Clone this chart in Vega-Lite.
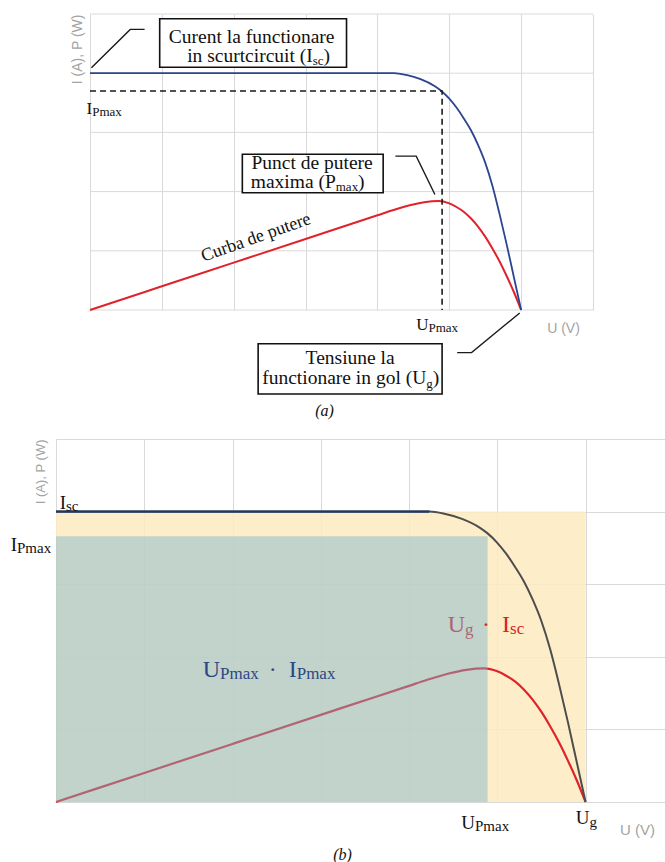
{
  "$schema": "https://vega.github.io/schema/vega-lite/v6.json",
  "background": "white",
  "padding": {"left": 6, "top": 13, "right": 0, "bottom": 0},
  "spacing": 19,
  "config": {
    "view": {"stroke": null},
    "axis": {"labels": false, "ticks": false, "domain": false, "grid": true, "gridColor": "#d9d9d9", "gridWidth": 1}
  },
  "datasets": {
    "pv": [
      {"x": 0, "y": 0}, {"x": 1, "y": 0.4}, {"x": 2, "y": 0.8}, {"x": 3, "y": 1.2}, {"x": 3.6, "y": 1.44},
      {"x": 4.0, "y": 1.6}, {"x": 4.2, "y": 1.68}, {"x": 4.45, "y": 1.77}, {"x": 4.65, "y": 1.82}, {"x": 4.85, "y": 1.84},
      {"x": 5.0, "y": 1.8}, {"x": 5.1, "y": 1.74}, {"x": 5.2, "y": 1.66}, {"x": 5.3, "y": 1.55}, {"x": 5.4, "y": 1.41},
      {"x": 5.5, "y": 1.24}, {"x": 5.6, "y": 1.04}, {"x": 5.7, "y": 0.82}, {"x": 5.8, "y": 0.57}, {"x": 5.9, "y": 0.3}, {"x": 6.0, "y": 0}
    ],
    "iv": [
      {"x": 0, "y": 4.0, "seg": "flat"}, {"x": 4.23, "y": 4.0, "seg": "flat"},
      {"x": 4.4, "y": 3.97, "seg": "knee"}, {"x": 4.6, "y": 3.9, "seg": "knee"}, {"x": 4.8, "y": 3.78, "seg": "knee"},
      {"x": 4.89, "y": 3.7, "seg": "knee"}, {"x": 5.0, "y": 3.57, "seg": "knee"}, {"x": 5.1, "y": 3.42, "seg": "knee"},
      {"x": 5.2, "y": 3.24, "seg": "knee"}, {"x": 5.3, "y": 3.04, "seg": "knee"}, {"x": 5.4, "y": 2.79, "seg": "knee"},
      {"x": 5.5, "y": 2.49, "seg": "knee"}, {"x": 5.6, "y": 2.1, "seg": "knee"}, {"x": 5.7, "y": 1.62, "seg": "knee"},
      {"x": 5.8, "y": 1.1, "seg": "knee"}, {"x": 5.9, "y": 0.55, "seg": "knee"}, {"x": 6.0, "y": 0, "seg": "knee"}
    ],
    "a_grid_h": [
      {"x": 0, "x2": 7, "y": 0}, {"x": 0, "x2": 7, "y": 1}, {"x": 0, "x2": 7, "y": 2},
      {"x": 0, "x2": 7, "y": 3}, {"x": 0, "x2": 7, "y": 4}, {"x": 0, "x2": 7, "y": 5}
    ],
    "a_dash": [{"x": 0, "y": 3.7, "o": 1}, {"x": 4.9, "y": 3.7, "o": 2}, {"x": 4.9, "y": 0, "o": 3}],
    "a_boxes": [
      {"x": 0.97, "x2": 3.57, "y": 4.92, "y2": 4.1},
      {"x": 2.12, "x2": 4.08, "y": 2.63, "y2": 1.98},
      {"x": 2.34, "x2": 4.9, "y": -0.57, "y2": -1.42}
    ],
    "a_callouts": [
      {"id": "isc", "o": 1, "x": 0.02, "y": 4.09}, {"id": "isc", "o": 2, "x": 0.56, "y": 4.74}, {"id": "isc", "o": 3, "x": 0.76, "y": 4.74},
      {"id": "pmax", "o": 1, "x": 4.25, "y": 2.6}, {"id": "pmax", "o": 2, "x": 4.54, "y": 2.6}, {"id": "pmax", "o": 3, "x": 4.8, "y": 1.95},
      {"id": "ug", "o": 1, "x": 5.11, "y": -0.72}, {"id": "ug", "o": 2, "x": 5.31, "y": -0.72}, {"id": "ug", "o": 3, "x": 5.98, "y": -0.05}
    ],
    "a_box_lines": [
      {"x": 2.25, "y": 4.515, "text": "Curent la functionare"},
      {"x": 3.09, "y": 2.39, "text": "Punct de putere"},
      {"x": 3.62, "y": -0.92, "text": "Tensiune la"}
    ],
    "a_box_pre": [
      {"x": 3.1, "y": 4.19, "text": "in scurtcircuit (I"},
      {"x": 3.42, "y": 2.06, "text": "maxima (P"},
      {"x": 4.68, "y": -1.255, "text": "functionare in gol (U"}
    ],
    "a_box_sub": [
      {"x": 3.1, "y": 4.14, "text": "sc"},
      {"x": 3.42, "y": 2.01, "text": "max"},
      {"x": 4.68, "y": -1.31, "text": "g"}
    ],
    "a_box_post": [
      {"x": 3.25, "y": 4.19, "text": ")"},
      {"x": 3.73, "y": 2.06, "text": ")"},
      {"x": 4.77, "y": -1.255, "text": ")"}
    ],
    "a_lbl_main": [
      {"x": 0.03, "y": 3.31, "text": "I"},
      {"x": 4.71, "y": -0.34, "text": "U"}
    ],
    "a_lbl_sub": [
      {"x": 0.03, "y": 3.27, "text": "Pmax"},
      {"x": 4.71, "y": -0.38, "text": "Pmax"}
    ],
    "a_curba": [{"x": 2.31, "y": 1.22, "text": "Curba de putere"}],
    "b_regions": [
      {"region": "Ug·Isc", "x": 0, "x2": 6.0, "y": 0, "y2": 4.0},
      {"region": "UPmax·IPmax", "x": 0, "x2": 4.89, "y": 0, "y2": 3.66}
    ],
    "b_navy_main": [
      {"x": 1.858, "y": 1.722, "text": "U"},
      {"x": 2.727, "y": 1.722, "text": "·\u2002I"}
    ],
    "b_navy_sub": [
      {"x": 1.858, "y": 1.694, "text": "Pmax"},
      {"x": 2.727, "y": 1.694, "text": "Pmax"}
    ],
    "b_red_under_main": [{"x": 4.634, "y": 2.342, "text": "U"}],
    "b_red_under_sub": [{"x": 4.634, "y": 2.3, "text": "g"}],
    "b_red_top_main": [{"x": 5.144, "y": 2.342, "text": "·\u2002I"}],
    "b_red_top_sub": [{"x": 5.144, "y": 2.314, "text": "sc"}],
    "b_lbl_main": [
      {"x": 0.113, "y": 4.036, "text": "I"},
      {"x": -0.442, "y": 3.457, "text": "I"},
      {"x": 4.747, "y": -0.368, "text": "U"},
      {"x": 6.045, "y": -0.299, "text": "U"}
    ],
    "b_lbl_sub": [
      {"x": 0.113, "y": 4.015, "text": "sc"},
      {"x": -0.442, "y": 3.43, "text": "Pmax"},
      {"x": 4.747, "y": -0.4, "text": "Pmax"},
      {"x": 6.045, "y": -0.344, "text": "g"}
    ]
  },
  "vconcat": [
    {
      "width": 537,
      "height": 296,
      "title": {"text": "(a)", "orient": "bottom", "frame": "group", "anchor": "middle", "dx": 0, "offset": 8, "baseline": "top", "font": "Liberation Serif", "fontSize": 16, "fontStyle": "italic", "fontWeight": "normal", "color": "#111111"},
      "encoding": {
        "x": {"field": "x", "type": "quantitative", "scale": {"domain": [-0.4731, 7], "nice": false, "zero": false},
          "axis": {"values": [0, 1, 2, 3, 4, 5, 6, 7], "title": "U (V)", "titleX": 507, "titleY": 18, "titleAlign": "center", "titleBaseline": "middle", "titleAngle": 0, "titleFont": "Liberation Sans", "titleFontSize": 14, "titleFontWeight": "normal", "titleColor": "#a3a3a3", "minExtent": 0}},
        "y": {"field": "y", "type": "quantitative", "scale": {"domain": [0, 5], "nice": false, "zero": false},
          "axis": {"grid": false, "title": "I (A), P (W)", "titleX": 21, "titleY": 0, "titleAngle": 270, "titleAlign": "right", "titleBaseline": "middle", "titleFont": "Liberation Sans", "titleFontSize": 14, "titleFontWeight": "normal", "titleColor": "#a3a3a3", "minExtent": 0}}
      },
      "layer": [
        {"data": {"name": "a_grid_h"}, "mark": {"type": "rule", "color": "#d9d9d9", "strokeWidth": 1}, "encoding": {"x2": {"field": "x2"}}},
        {"data": {"name": "pv"}, "mark": {"type": "line", "color": "#e0232b", "strokeWidth": 2, "interpolate": "monotone"}},
        {"data": {"name": "iv"}, "mark": {"type": "line", "color": "#2b4590", "strokeWidth": 1.8, "interpolate": "monotone"}},
        {"data": {"name": "a_dash"}, "mark": {"type": "line", "color": "#1a1a1a", "strokeWidth": 1.6, "strokeDash": [6, 4]}, "encoding": {"order": {"field": "o", "type": "quantitative"}}},
        {"data": {"name": "a_boxes"}, "mark": {"type": "rect", "fill": "white", "stroke": "#111111", "strokeWidth": 1.6}, "encoding": {"x2": {"field": "x2"}, "y2": {"field": "y2"}}},
        {"data": {"name": "a_callouts"}, "mark": {"type": "line", "color": "#1a1a1a", "strokeWidth": 1.4}, "encoding": {"detail": {"field": "id"}, "order": {"field": "o", "type": "quantitative"}}},
        {"data": {"name": "a_box_lines"}, "mark": {"type": "text", "align": "center", "baseline": "alphabetic", "font": "Liberation Serif", "fontSize": 19.5, "color": "#111111"}, "encoding": {"text": {"field": "text"}}},
        {"data": {"name": "a_box_pre"}, "mark": {"type": "text", "align": "right", "baseline": "alphabetic", "font": "Liberation Serif", "fontSize": 19.5, "color": "#111111"}, "encoding": {"text": {"field": "text"}}},
        {"data": {"name": "a_box_sub"}, "mark": {"type": "text", "align": "left", "baseline": "alphabetic", "font": "Liberation Serif", "fontSize": 13, "color": "#111111"}, "encoding": {"text": {"field": "text"}}},
        {"data": {"name": "a_box_post"}, "mark": {"type": "text", "align": "left", "baseline": "alphabetic", "font": "Liberation Serif", "fontSize": 19.5, "color": "#111111"}, "encoding": {"text": {"field": "text"}}},
        {"data": {"name": "a_lbl_main"}, "mark": {"type": "text", "align": "right", "baseline": "alphabetic", "font": "Liberation Serif", "fontSize": 17, "color": "#111111"}, "encoding": {"text": {"field": "text"}}},
        {"data": {"name": "a_lbl_sub"}, "mark": {"type": "text", "align": "left", "baseline": "alphabetic", "font": "Liberation Serif", "fontSize": 13, "color": "#111111"}, "encoding": {"text": {"field": "text"}}},
        {"data": {"name": "a_curba"}, "mark": {"type": "text", "align": "center", "baseline": "middle", "angle": 340.5, "font": "Liberation Serif", "fontSize": 18, "color": "#111111"}, "encoding": {"text": {"field": "text"}}}
      ]
    },
    {
      "width": 609,
      "height": 363,
      "title": {"text": "(b)", "orient": "bottom", "frame": "group", "anchor": "middle", "dx": -18, "offset": 10, "baseline": "top", "font": "Liberation Serif", "fontSize": 16, "fontStyle": "italic", "fontWeight": "normal", "color": "#111111"},
      "encoding": {
        "x": {"field": "x", "type": "quantitative", "scale": {"domain": [0, 6.9], "nice": false, "zero": false},
          "axis": {"values": [0, 1, 2, 3, 4, 5, 6], "title": "U (V)", "titleX": 581, "titleY": 27, "titleAlign": "center", "titleBaseline": "middle", "titleAngle": 0, "titleFont": "Liberation Sans", "titleFontSize": 15, "titleFontWeight": "normal", "titleColor": "#a3a3a3", "minExtent": 0}},
        "y": {"field": "y", "type": "quantitative", "scale": {"domain": [0, 5], "nice": false, "zero": false},
          "axis": {"values": [0, 1, 2, 3, 4, 5], "title": "I (A), P (W)", "titleX": -16, "titleY": 0, "titleAngle": 270, "titleAlign": "right", "titleBaseline": "middle", "titleFont": "Liberation Sans", "titleFontSize": 13, "titleFontWeight": "normal", "titleColor": "#a3a3a3", "minExtent": 50}}
      },
      "layer": [
        {"data": {"name": "b_regions"}, "transform": [{"filter": "datum.region === 'Ug·Isc'"}], "mark": {"type": "rect", "fill": "#fdeabf", "opacity": 0.85}, "encoding": {"x2": {"field": "x2"}, "y2": {"field": "y2"}}},
        {"data": {"name": "pv"}, "mark": {"type": "line", "color": "#e0232b", "strokeWidth": 2.2, "interpolate": "monotone"}},
        {"data": {"name": "iv"}, "mark": {"type": "line", "color": "#4d4d4d", "strokeWidth": 2, "interpolate": "monotone"}},
        {"data": {"name": "iv"}, "transform": [{"filter": "datum.seg === 'flat'"}], "mark": {"type": "line", "color": "#1f3767", "strokeWidth": 2.2}},
        {"data": {"name": "b_red_under_main"}, "mark": {"type": "text", "align": "right", "baseline": "alphabetic", "font": "Liberation Serif", "fontSize": 24, "color": "#d8232a"}, "encoding": {"text": {"field": "text"}}},
        {"data": {"name": "b_red_under_sub"}, "mark": {"type": "text", "align": "left", "baseline": "alphabetic", "font": "Liberation Serif", "fontSize": 17, "color": "#d8232a"}, "encoding": {"text": {"field": "text"}}},
        {"data": {"name": "b_regions"}, "transform": [{"filter": "datum.region === 'UPmax·IPmax'"}], "mark": {"type": "rect", "fill": "#78b4cd", "opacity": 0.45}, "encoding": {"x2": {"field": "x2"}, "y2": {"field": "y2"}}},
        {"data": {"name": "b_red_top_main"}, "mark": {"type": "text", "align": "right", "baseline": "alphabetic", "font": "Liberation Serif", "fontSize": 24, "color": "#d8232a"}, "encoding": {"text": {"field": "text"}}},
        {"data": {"name": "b_red_top_sub"}, "mark": {"type": "text", "align": "left", "baseline": "alphabetic", "font": "Liberation Serif", "fontSize": 17, "color": "#d8232a"}, "encoding": {"text": {"field": "text"}}},
        {"data": {"name": "b_navy_main"}, "mark": {"type": "text", "align": "right", "baseline": "alphabetic", "font": "Liberation Serif", "fontSize": 24, "color": "#2d4684"}, "encoding": {"text": {"field": "text"}}},
        {"data": {"name": "b_navy_sub"}, "mark": {"type": "text", "align": "left", "baseline": "alphabetic", "font": "Liberation Serif", "fontSize": 17, "color": "#2d4684"}, "encoding": {"text": {"field": "text"}}},
        {"data": {"name": "b_lbl_main"}, "mark": {"type": "text", "align": "right", "baseline": "alphabetic", "font": "Liberation Serif", "fontSize": 19, "color": "#111111"}, "encoding": {"text": {"field": "text"}}},
        {"data": {"name": "b_lbl_sub"}, "mark": {"type": "text", "align": "left", "baseline": "alphabetic", "font": "Liberation Serif", "fontSize": 15, "color": "#111111"}, "encoding": {"text": {"field": "text"}}}
      ]
    }
  ]
}
